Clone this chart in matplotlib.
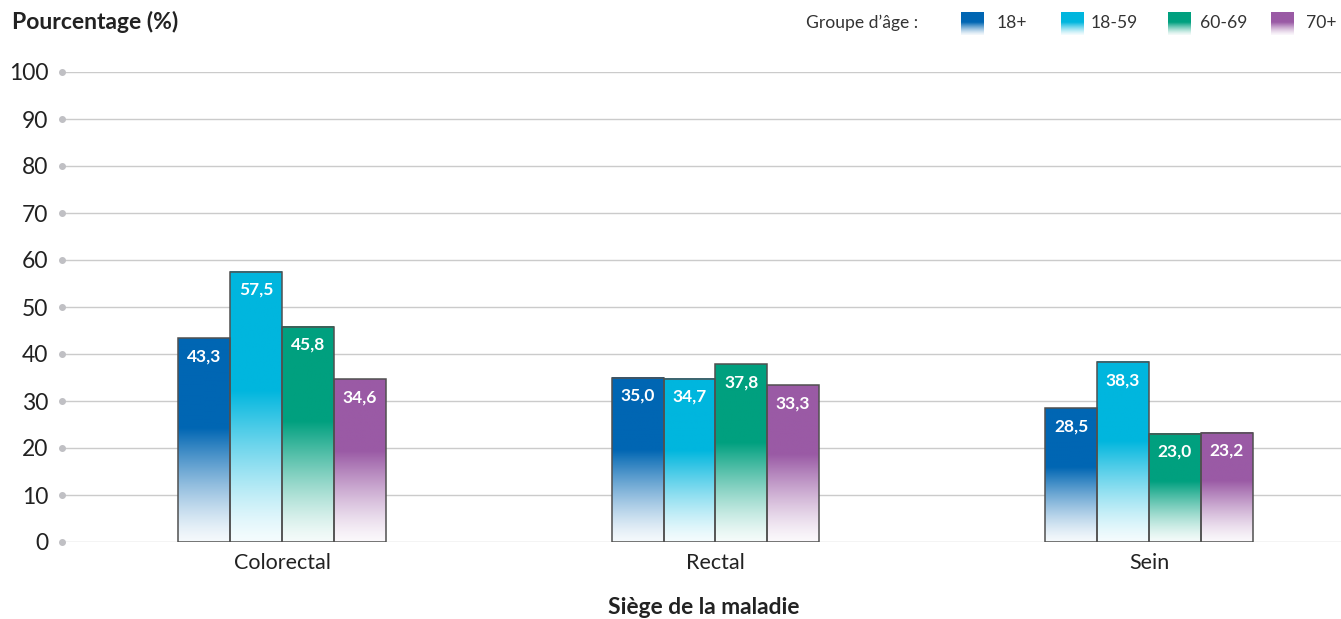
import numpy as np
import matplotlib
matplotlib.use("Agg")
import matplotlib.pyplot as plt
from matplotlib.colors import to_rgb

plt.rcParams['font.family'] = ['Lato', 'DejaVu Sans']

# Data
sites = ["Colorectal", "Rectal", "Sein"]
age_groups = ["18+", "18-59", "60-69", "70+"]
values = {
    "18+":   [43.3, 35.0, 28.5],
    "18-59": [57.5, 34.7, 38.3],
    "60-69": [45.8, 37.8, 23.0],
    "70+":   [34.6, 33.3, 23.2],
}
yticks = [0, 10, 20, 30, 40, 50, 60, 70, 80, 90, 100]
colors = {
    "18+": "#0066b3",
    "18-59": "#00b6de",
    "60-69": "#00a07f",
    "70+": "#9a5aa5",
}

W, H = 1341, 619
fig = plt.figure(figsize=(W / 100, H / 100), dpi=100)
ax = fig.add_axes([62 / W, (H - 542) / H, 1 - 62 / W, (542 - 72) / H])


def gradient_img(color, n=256):
    # solid in the upper part of the bar, fading to almost white at the base
    t = np.linspace(0, 1, n)  # 0 = bottom, 1 = top
    w = 0.04 + 0.96 * np.clip(t / 0.56, 0, 1) ** 1.3
    c = np.array(to_rgb(color))
    rgb = (1 - w)[:, None] * np.ones(3) + w[:, None] * c
    return rgb[:, None, :]


x = np.arange(len(sites))
bw = 0.1195
xlim = (-0.5075, 2.443)

for i, g in enumerate(age_groups):
    offs = (i - 1.5) * bw
    bars = ax.bar(x + offs, values[g], width=bw, facecolor="none",
                  edgecolor="#505050", linewidth=1.1, zorder=4)
    img = gradient_img(colors[g])
    for b, v in zip(bars, values[g]):
        x0, y0 = b.get_x(), b.get_y()
        ax.imshow(img, extent=(x0, x0 + b.get_width(), y0, y0 + b.get_height()),
                  origin="lower", aspect="auto", zorder=3, interpolation="bilinear")
        ax.annotate(f"{v:.1f}".replace(".", ","), (x0 + b.get_width() / 2, v),
                    xytext=(0, -13), textcoords="offset points",
                    ha="center", va="center", color="white",
                    fontsize=12.5, fontweight="bold", zorder=5)

ax.set_xlim(*xlim)
ax.set_ylim(0, 100)
ax.set_yticks(yticks)
ax.set_yticklabels([str(v) for v in yticks], fontsize=16.5, color="#222222")
ax.tick_params(axis="y", length=0, pad=10)
ax.set_xticks(x)
ax.set_xticklabels(sites, fontsize=15.5, color="#222222")
ax.tick_params(axis="x", length=0, pad=8)
for s in ax.spines.values():
    s.set_visible(False)
ax.grid(axis="y", color="#cbcbcb", linewidth=1.0, zorder=0)
ax.set_axisbelow(True)
# dot markers at the start of each gridline
ax.plot([0.0] * len(yticks), yticks, "o", color="#c0c0c4", markersize=4,
        transform=ax.get_yaxis_transform(), clip_on=False, zorder=2)

fig.text(12 / W, 1 - 22 / H, "Pourcentage (%)", fontsize=16.5, fontweight="bold",
         color="#222222", ha="left", va="center")
fig.text(704 / W, 1 - 607 / H, "Siège de la maladie", fontsize=16.4,
         fontweight="bold", color="#222222", ha="center", va="center")

# legend
fig.text(806 / W, 1 - 23 / H, "Groupe d’âge :", fontsize=12.6, color="#333333",
         ha="left", va="center")
sw_x = [961, 1061, 1168, 1271]
lab_x = [997, 1091, 1200, 1306]
for g, sx, lx in zip(age_groups, sw_x, lab_x):
    sax = fig.add_axes([sx / W, 1 - 35 / H, 23 / W, 23 / H])
    sax.imshow(gradient_img(colors[g]), origin="lower", aspect="auto",
               extent=(0, 1, 0, 1))
    sax.axis("off")
    fig.text(lx / W, 1 - 23 / H, g, fontsize=12.6, color="#333333",
             ha="left", va="center")

fig.savefig("out.png", dpi=100)
